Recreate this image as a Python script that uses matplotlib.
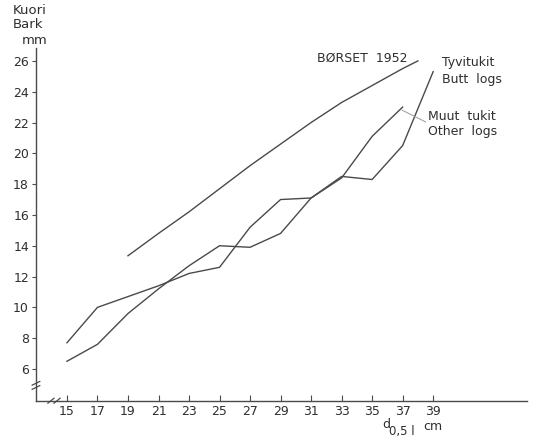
import matplotlib.pyplot as plt

# Bark thickness (mm) by mid diameter d0.5l (cm)
diam_butt = [15, 17, 19, 21, 23, 25, 27, 29, 31, 33, 35, 37, 39]
bark_butt = [7.7, 10.0, 10.7, 11.4, 12.2, 12.6, 15.2, 17.0, 17.1, 18.5, 18.3, 20.5, 25.3]

diam_other = [15, 17, 19, 21, 23, 25, 27, 29, 31, 33, 35, 37]
bark_other = [6.5, 7.6, 9.6, 11.2, 12.7, 14.0, 13.9, 14.8, 17.1, 18.4, 21.1, 23.0]

diam_borset = [19, 21, 23, 25, 27, 29, 31, 33, 35, 37, 38]
bark_borset = [13.35, 14.8, 16.2, 17.7, 19.2, 20.6, 22.0, 23.3, 24.4, 25.5, 26.0]

xticks = [15, 17, 19, 21, 23, 25, 27, 29, 31, 33, 35, 37, 39]
yticks = [6, 8, 10, 12, 14, 16, 18, 20, 22, 24, 26]

LINE = '#4a4a4a'
TXT = '#2e2e2e'
plt.rcParams['font.family'] = ['DejaVu Sans']

fig = plt.figure(figsize=(5.33, 4.40), dpi=100)
ax = fig.add_axes([0.0675, 0.0893, 0.9215, 0.8017])

ax.plot(diam_borset, bark_borset, color=LINE, lw=1.0)
ax.plot(diam_butt, bark_butt, color=LINE, lw=1.0)
ax.plot(diam_other, bark_other, color=LINE, lw=1.0)

ax.set_xlim(12.97, 45.16)
ax.set_ylim(3.94, 26.84)
ax.set_xticks(xticks)
ax.set_yticks(yticks)
ax.tick_params(axis='x', direction='in', length=4, width=0.8, colors=LINE,
               labelcolor=TXT, labelsize=9, pad=3)
ax.tick_params(axis='y', direction='out', length=3, width=0.8, colors=LINE,
               labelcolor=TXT, labelsize=9, pad=2)
for s in ['top', 'right']:
    ax.spines[s].set_visible(False)
for s in ['left', 'bottom']:
    ax.spines[s].set_color(LINE)
    ax.spines[s].set_linewidth(1.0)

# axis break marks
for dx in (-0.25, 0.15):
    ax.plot([14.0 + dx, 14.4 + dx], [3.78, 4.1], color=LINE, lw=0.9,
            clip_on=False)
for dy in (-0.15, 0.12):
    ax.plot([12.72, 13.22], [4.95 + dy - 0.12, 4.95 + dy + 0.12], color=LINE,
            lw=0.9, clip_on=False)

# annotations
ax.text(31.4, 26.2, 'BØRSET  1952', fontsize=9, color=TXT, va='center')
ax.text(39.6, 25.87, 'Tyvitukit', fontsize=9, color=TXT, va='center')
ax.text(39.6, 24.77, 'Butt  logs', fontsize=9, color=TXT, va='center')
ax.text(38.67, 22.36, 'Muut  tukit', fontsize=9, color=TXT, va='center')
ax.text(38.67, 21.39, 'Other  logs', fontsize=9, color=TXT, va='center')
ax.plot([36.97, 38.5], [22.8, 22.04], color='#9a9a9a', lw=0.7)

# axis titles
fig.text(13 / 533, 1 - 11 / 440, 'Kuori', fontsize=9.5, color=TXT, va='center')
fig.text(13 / 533, 1 - 25 / 440, 'Bark', fontsize=9.5, color=TXT, va='center')
fig.text(22 / 533, 1 - 41 / 440, 'mm', fontsize=9.5, color=TXT, va='center')
fig.text(382 / 533, 1 - 424 / 440, 'd', fontsize=9, color=TXT, va='center')
fig.text(389 / 533, 1 - 431 / 440, '0,5 l', fontsize=8.5, color=TXT,
         va='center')
fig.text(423 / 533, 1 - 426 / 440, 'cm', fontsize=9, color=TXT, va='center')

fig.savefig('out.png', dpi=100)
